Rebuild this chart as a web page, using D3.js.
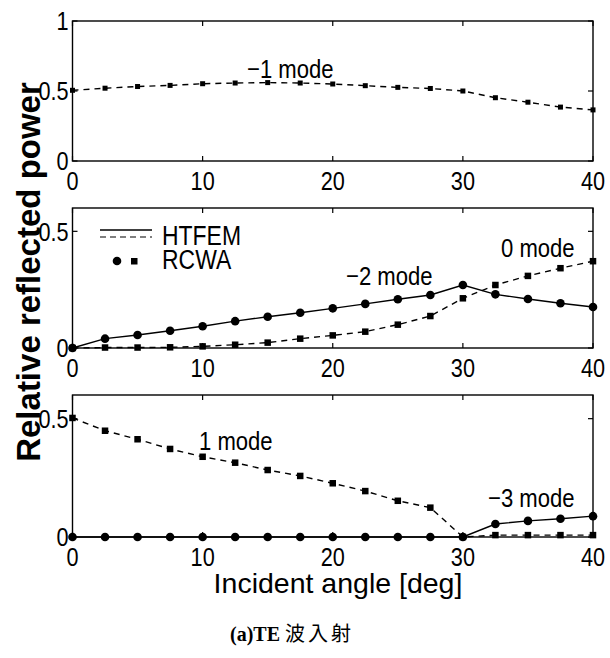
<!DOCTYPE html>
<html><head><meta charset="utf-8">
<script src="https://cdn.jsdelivr.net/npm/d3@7"></script>
<style>
html,body{margin:0;padding:0;background:#fff;}
svg{display:block;}
text{font-family:"Liberation Sans",Arial,Helvetica,sans-serif;fill:#000;}
</style></head>
<body>
<svg id="chart" width="610" height="658"></svg>
<script>
// ---- data ----
const angles = [0,2.5,5,7.5,10,12.5,15,17.5,20,22.5,25,27.5,30,32.5,35,37.5,40];
const modeMinus1 = [0.505,0.52,0.532,0.54,0.552,0.557,0.56,0.557,0.55,0.538,0.526,0.518,0.5,0.452,0.42,0.385,0.365];
const modeMinus2 = [0,0.04,0.056,0.074,0.093,0.115,0.134,0.151,0.17,0.189,0.209,0.227,0.27,0.23,0.21,0.192,0.176];
const mode0      = [0,0.002,0.002,0.003,0.007,0.014,0.023,0.04,0.054,0.07,0.1,0.137,0.213,0.27,0.309,0.342,0.372];
const mode1      = [0.503,0.449,0.413,0.372,0.339,0.314,0.283,0.258,0.227,0.194,0.153,0.124,0,0.008,0.008,0.008,0.008];
const modeMinus3 = [0,0,0,0,0,0,0,0,0,0,0,0,0,0.055,0.068,0.077,0.088];
const xTicks = [0,10,20,30,40];
const yTicksTop = [0,0.5,1];
const yTicksLower = [0,0.5];
const legendNames = ["HTFEM","RCWA"];

// ---- layout ----
const svg = d3.select("#chart");
const X0 = 72.5, X1 = 593;
const x = d3.scaleLinear().domain([0,40]).range([X0,X1]);
const SX = 0.85; // condensed look

function ntext(parent, tx, ty, str, size, anchor, dy) {
  const t = parent.append("g").attr("transform",`translate(${tx},${ty}) scale(${SX},1)`)
    .append("text").attr("x",0).attr("y",0).attr("font-size",size).attr("text-anchor",anchor||"start");
  if (dy) t.attr("dy",dy);
  t.text(str);
  return t;
}

const panels = [
  {top:21,  bottom:161, domain:[0,1],   ticks:yTicksTop,
   series:[{v:modeMinus1, dash:true, mark:"sq", sq:5}],
   labels:[{t:"\u22121 mode", x:247, y:78}]},
  {top:208, bottom:348, domain:[0,0.6], ticks:yTicksLower,
   series:[{v:modeMinus2, dash:false, mark:"c"},{v:mode0, dash:true, mark:"sq", sq:6.5}],
   labels:[{t:"0 mode", x:501, y:257},{t:"\u22122 mode", x:346, y:285}], legend:true},
  {top:395, bottom:537, domain:[0,0.6], ticks:yTicksLower,
   series:[{v:mode1, dash:true, mark:"sq", sq:6.5},{v:modeMinus3, dash:false, mark:"c"}],
   labels:[{t:"1 mode", x:199, y:450},{t:"\u22123 mode", x:488, y:507}]}
];

const fmt = v => v===0?"0":(v===1?"1":String(v));

panels.forEach(p => {
  const y = d3.scaleLinear().domain(p.domain).range([p.bottom,p.top]);
  const g = svg.append("g");
  g.append("rect").attr("x",X0).attr("y",p.top).attr("width",X1-X0).attr("height",p.bottom-p.top)
    .attr("fill","none").attr("stroke","#000").attr("stroke-width",1.4);
  xTicks.forEach(t => {
    g.append("line").attr("x1",x(t)).attr("x2",x(t)).attr("y1",p.bottom).attr("y2",p.bottom-5).attr("stroke","#000").attr("stroke-width",1.2);
    g.append("line").attr("x1",x(t)).attr("x2",x(t)).attr("y1",p.top).attr("y2",p.top+5).attr("stroke","#000").attr("stroke-width",1.2);
    ntext(g, x(t), p.bottom+29, String(t), 25.5, "middle");
  });
  p.ticks.forEach(t => {
    g.append("line").attr("x1",X0).attr("x2",X0+5).attr("y1",y(t)).attr("y2",y(t)).attr("stroke","#000").attr("stroke-width",1.2);
    g.append("line").attr("x1",X1).attr("x2",X1-5).attr("y1",y(t)).attr("y2",y(t)).attr("stroke","#000").attr("stroke-width",1.2);
    ntext(g, X0-4, y(t), fmt(t), 25.5, "end", "0.36em");
  });
  p.series.forEach(s => {
    const line = d3.line().x((d,i)=>x(angles[i])).y(d=>y(d));
    g.append("path").attr("d",line(s.v)).attr("fill","none").attr("stroke","#000")
      .attr("stroke-width",1.4).attr("stroke-dasharray",s.dash?"6,5":null);
    s.v.forEach((d,i) => {
      if (s.mark==="c") {
        g.append("circle").attr("cx",x(angles[i])).attr("cy",y(d)).attr("r",4.3).attr("fill","#000");
      } else {
        const a = s.sq;
        g.append("rect").attr("x",x(angles[i])-a/2).attr("y",y(d)-a/2).attr("width",a).attr("height",a).attr("fill","#000");
      }
    });
  });
  p.labels.forEach(l => ntext(g, l.x, l.y, l.t, 26, "start"));
  if (p.legend) {
    g.append("line").attr("x1",100).attr("x2",152).attr("y1",230).attr("y2",230).attr("stroke","#000").attr("stroke-width",1.4);
    g.append("line").attr("x1",100).attr("x2",152).attr("y1",237).attr("y2",237).attr("stroke","#000").attr("stroke-width",1.2).attr("stroke-dasharray","6,4");
    ntext(g, 162, 245, legendNames[0], 27, "start");
    g.append("circle").attr("cx",117).attr("cy",261).attr("r",4.3).attr("fill","#000");
    g.append("rect").attr("x",131).attr("y",258).attr("width",6.5).attr("height",6.5).attr("fill","#000");
    ntext(g, 162, 269, legendNames[1], 27, "start");
  }
});

svg.append("text").attr("x",338).attr("y",593).attr("text-anchor","middle").attr("font-size",28.5)
  .text("Incident angle [deg]");
svg.append("text").attr("transform","translate(40,272) rotate(-90)").attr("text-anchor","middle")
  .attr("font-size",33).attr("font-weight","bold").text("Relative reflected power");
const cap = svg.append("text").attr("x",292).attr("y",641).attr("text-anchor","middle").attr("font-size",20);
cap.append("tspan").attr("font-family","'Liberation Serif',serif").attr("font-weight","bold").text("(a)TE ");
cap.append("tspan").attr("font-family","'Noto Sans CJK JP','Noto Sans CJK SC',sans-serif").attr("letter-spacing",3).text("波入射");
</script>
</body></html>
